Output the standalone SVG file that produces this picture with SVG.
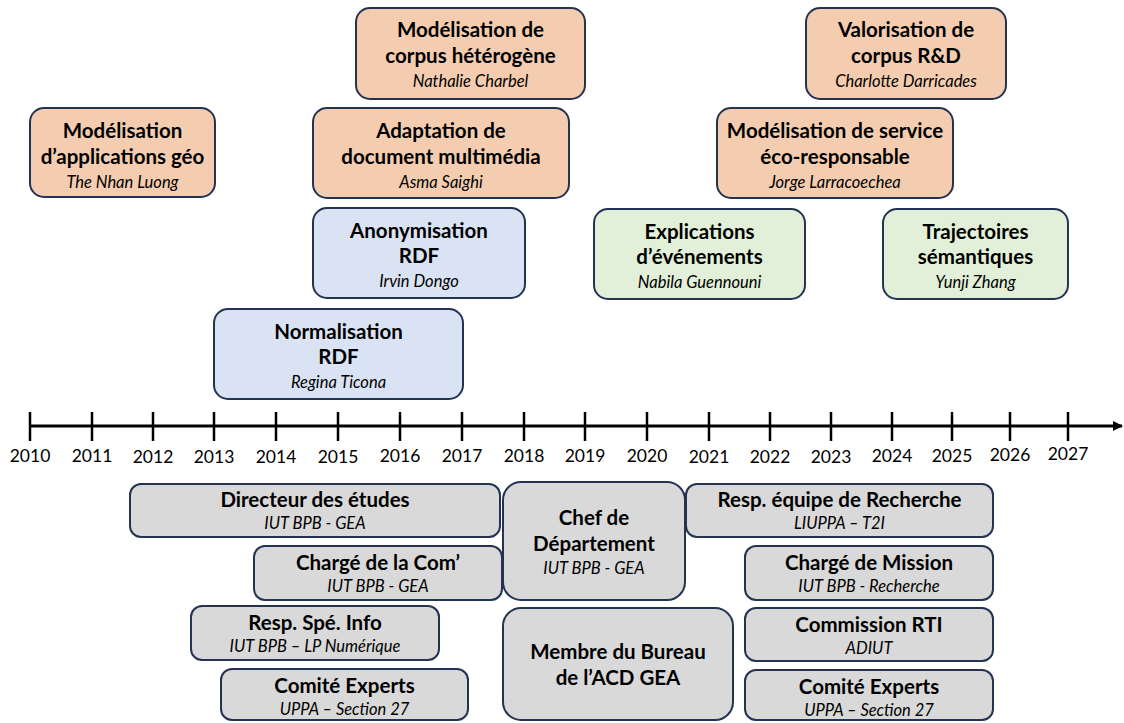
<svg xmlns="http://www.w3.org/2000/svg" width="1124" height="723" viewBox="0 0 1124 723">
<style>
.box{stroke:#243352;stroke-width:2}
.o{fill:#F4CDB0}.b{fill:#DAE3F3}.g{fill:#E2F0D9}.y{fill:#D9D9D9}
.t{font-family:Lato,"Open Sans",sans-serif;font-weight:bold;font-size:20.5px;fill:#000;text-anchor:middle}
.s{font-family:Lato,"Open Sans",sans-serif;font-style:italic;font-size:16.5px;fill:#000;text-anchor:middle}
.yr{font-family:Lato,"Open Sans",sans-serif;font-size:17.5px;fill:#000;text-anchor:middle}
.ax{stroke:#000;stroke-width:3;fill:none}
.tk{stroke:#000;stroke-width:2.5}
</style>
<defs>
<marker id="arr" markerWidth="10" markerHeight="10" refX="9" refY="5" orient="auto" markerUnits="userSpaceOnUse"><path d="M0,0 L10,5 L0,10 Z" fill="#000"/></marker>
</defs>
<g id="connectors">
<line class="ax" x1="30" y1="426" x2="1122" y2="426" marker-end="url(#arr)"/>
<g class="tk">
<line x1="30" y1="412" x2="30" y2="441"/><line x1="92" y1="412" x2="92" y2="441"/><line x1="153" y1="412" x2="153" y2="441"/><line x1="214" y1="412" x2="214" y2="441"/><line x1="276" y1="412" x2="276" y2="441"/><line x1="338" y1="412" x2="338" y2="441"/><line x1="400" y1="412" x2="400" y2="441"/><line x1="462" y1="412" x2="462" y2="441"/><line x1="524" y1="412" x2="524" y2="441"/><line x1="585" y1="412" x2="585" y2="441"/><line x1="647" y1="412" x2="647" y2="441"/><line x1="709" y1="412" x2="709" y2="441"/><line x1="770" y1="412" x2="770" y2="441"/><line x1="831" y1="412" x2="831" y2="441"/><line x1="892" y1="412" x2="892" y2="441"/><line x1="952" y1="412" x2="952" y2="441"/><line x1="1010" y1="412" x2="1010" y2="441"/><line x1="1068" y1="412" x2="1068" y2="441"/>
</g>
</g>
<g id="years">
<text class="yr" x="30" y="462">2010</text><text class="yr" x="92" y="462">2011</text><text class="yr" x="153" y="463">2012</text><text class="yr" x="214" y="463">2013</text><text class="yr" x="276" y="463">2014</text><text class="yr" x="338" y="463">2015</text><text class="yr" x="400" y="462">2016</text><text class="yr" x="462" y="462">2017</text><text class="yr" x="524" y="462">2018</text><text class="yr" x="585" y="462">2019</text><text class="yr" x="647" y="462">2020</text><text class="yr" x="709" y="463">2021</text><text class="yr" x="770" y="463">2022</text><text class="yr" x="831" y="463">2023</text><text class="yr" x="892" y="462">2024</text><text class="yr" x="952" y="462">2025</text><text class="yr" x="1010" y="461">2026</text><text class="yr" x="1068" y="460">2027</text>
</g>
<g id="n1"><rect class="box o" x="30" y="108" width="185" height="89" rx="14"/><text class="t" x="122.5" y="138">Modélisation</text><text class="t" x="122.5" y="164">d’applications géo</text><text class="s" x="122.5" y="188">The Nhan Luong</text></g>
<g id="n2"><rect class="box o" x="356" y="8" width="229" height="91" rx="14"/><text class="t" x="470.5" y="37">Modélisation de</text><text class="t" x="470.5" y="63">corpus hétérogène</text><text class="s" x="470.5" y="87">Nathalie Charbel</text></g>
<g id="n3"><rect class="box o" x="313" y="108" width="256" height="90" rx="14"/><text class="t" x="441" y="138">Adaptation de</text><text class="t" x="441" y="164">document multimédia</text><text class="s" x="441" y="188">Asma Saighi</text></g>
<g id="n4"><rect class="box b" x="313" y="208" width="212" height="90" rx="14"/><text class="t" x="419" y="238">Anonymisation</text><text class="t" x="419" y="263">RDF</text><text class="s" x="419" y="287">Irvin Dongo</text></g>
<g id="n5"><rect class="box b" x="214" y="309" width="249" height="90" rx="14"/><text class="t" x="338.5" y="339">Normalisation</text><text class="t" x="338.5" y="364">RDF</text><text class="s" x="338.5" y="388">Regina Ticona</text></g>
<g id="n6"><rect class="box o" x="806" y="8" width="200" height="91" rx="14"/><text class="t" x="906" y="37">Valorisation de</text><text class="t" x="906" y="63">corpus R&amp;D</text><text class="s" x="906" y="87">Charlotte Darricades</text></g>
<g id="n7"><rect class="box o" x="717" y="108" width="236" height="90" rx="14"/><text class="t" x="835" y="138">Modélisation de service</text><text class="t" x="835" y="164">éco-responsable</text><text class="s" x="835" y="188">Jorge Larracoechea</text></g>
<g id="n8"><rect class="box g" x="594" y="209" width="211" height="90" rx="14"/><text class="t" x="699.5" y="239">Explications</text><text class="t" x="699.5" y="264">d’événements</text><text class="s" x="699.5" y="288">Nabila Guennouni</text></g>
<g id="n9"><rect class="box g" x="883" y="209" width="185" height="90" rx="14"/><text class="t" x="975.5" y="239">Trajectoires</text><text class="t" x="975.5" y="264">sémantiques</text><text class="s" x="975.5" y="288">Yunji Zhang</text></g>
<g id="n10"><rect class="box y" x="130" y="484" width="370" height="53" rx="11"/><text class="t" x="315" y="507">Directeur des études</text><text class="s" x="315" y="529">IUT BPB - GEA</text></g>
<g id="n11"><rect class="box y" x="254" y="546" width="248" height="54" rx="11"/><text class="t" x="378" y="570">Chargé de la Com’</text><text class="s" x="378" y="592">IUT BPB - GEA</text></g>
<g id="n12"><rect class="box y" x="191" y="606" width="248" height="54" rx="11"/><text class="t" x="315" y="630">Resp. Spé. Info</text><text class="s" x="315" y="652">IUT BPB – LP Numérique</text></g>
<g id="n13"><rect class="box y" x="221" y="669" width="247" height="51" rx="11"/><text class="t" x="344.5" y="693">Comité Experts</text><text class="s" x="344.5" y="715">UPPA – Section 27</text></g>
<g id="n14"><rect class="box y" x="503" y="482" width="182" height="118" rx="18"/><text class="t" x="594" y="525">Chef de</text><text class="t" x="594" y="551">Département</text><text class="s" x="594" y="574">IUT BPB - GEA</text></g>
<g id="n15"><rect class="box y" x="503" y="608" width="230" height="112" rx="18"/><text class="t" x="618" y="659">Membre du Bureau</text><text class="t" x="618" y="685">de l’ACD GEA</text></g>
<g id="n16"><rect class="box y" x="686" y="484" width="307" height="53" rx="11"/><text class="t" x="839.5" y="507">Resp. équipe de Recherche</text><text class="s" x="839.5" y="529">LIUPPA – T2I</text></g>
<g id="n17"><rect class="box y" x="745" y="546" width="248" height="54" rx="11"/><text class="t" x="869" y="570">Chargé de Mission</text><text class="s" x="869" y="592">IUT BPB - Recherche</text></g>
<g id="n18"><rect class="box y" x="745" y="608" width="248" height="53" rx="11"/><text class="t" x="869" y="632">Commission RTI</text><text class="s" x="869" y="654">ADIUT</text></g>
<g id="n19"><rect class="box y" x="745" y="670" width="248" height="50" rx="11"/><text class="t" x="869" y="694">Comité Experts</text><text class="s" x="869" y="716">UPPA – Section 27</text></g>
</svg>
